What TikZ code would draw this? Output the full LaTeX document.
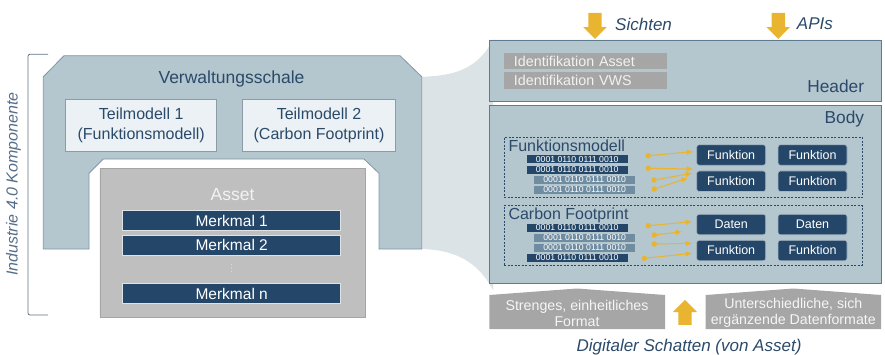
\documentclass[tikz,border=0pt]{standalone}
\usepackage{fontspec}
\setmainfont{Liberation Sans}
\newfontfamily\symfont{DejaVu Sans}
\usepackage{tikz}
\usetikzlibrary{positioning,arrows.meta,shapes.misc,shapes.arrows}
\definecolor{vwsblue}{HTML}{B4C6CE}
\definecolor{vwsedge}{HTML}{7F98A6}
\definecolor{paneledge}{HTML}{5E7B8F}
\definecolor{tmfill}{HTML}{EBF1F4}
\definecolor{tmedge}{HTML}{8C9BA5}
\definecolor{assetgray}{HTML}{BFBFBF}
\definecolor{assetedge}{HTML}{A5A5A5}
\definecolor{navy}{HTML}{244668}
\definecolor{bitlight}{HTML}{6F8CA0}
\definecolor{shadowband}{HTML}{DCE3E7}
\definecolor{idgray}{HTML}{A6A6A6}
\definecolor{inktext}{HTML}{2B4A6A}
\definecolor{gold}{HTML}{E9B430}
\definecolor{bracketc}{HTML}{5E7385}
\newcommand{\pxfont}[2]{\fontsize{#1pt}{#2pt}\selectfont}

\begin{document}
\begin{tikzpicture}[x=1pt, y=-1pt,
  font=\pxfont{16}{20},
  tm/.style={draw=tmedge, fill=tmfill, line width=0.8pt, minimum height=52pt,
             align=center, inner sep=0pt, text=inktext, font=\pxfont{16}{20.5}},
  merkmal/.style={draw=white!85!navy, fill=navy, line width=0.8pt, minimum width=218pt,
                  minimum height=20pt, inner sep=0pt, text=white, font=\pxfont{15.5}{18}},
  panel/.style={chamfered rectangle, draw=paneledge, fill=vwsblue, line width=0.8pt,
                minimum width=391.7pt, inner sep=0pt, outer sep=0pt},
  idbar/.style={fill=idgray, text=white!95!black, text width=142.7pt, inner xsep=10pt,
                inner ysep=0pt, align=left, font=\pxfont{14.3}{16}},
  grp/.style={draw=inktext, dash pattern=on 2pt off 1.5pt, line width=0.7pt,
              minimum width=358.3pt, inner sep=0pt},
  grptitle/.style={anchor=west, inner sep=0pt, text=inktext, font=\pxfont{16}{18}},
  bits/.style={fill=navy, text=white, minimum width=101pt, minimum height=8pt,
               inner sep=0pt, font=\pxfont{8.7}{9}},
  bitslight/.style={bits, fill=bitlight, minimum width=100.7pt},
  fkt/.style={draw=white!60!navy, fill=navy, line width=0.6pt, rounded corners=2.5pt,
              minimum width=69pt, minimum height=20.5pt, inner sep=0pt, text=white,
              font=\pxfont{12.5}{14}},
  golddot/.style={circle, fill=gold, minimum size=5.4pt, inner sep=0pt},
  goldarr/.style={-{Triangle[length=6pt, width=5pt]}, draw=gold, line width=1pt},
  blockarr/.style={single arrow, fill=gold, inner xsep=0pt, inner ysep=6.5pt,
                   single arrow head extend=5pt},
  formatbox/.style={align=center, text=white!96!black, font=\pxfont{14.2}{16}},
  lab/.style={text=inktext, font=\itshape\pxfont{17}{20}, inner sep=0pt},
]
\useasboundingbox (0,0) rectangle (885,354);

% bracket round the whole component
\draw[bracketc, line width=0.8pt, rounded corners=2pt] (48,54.3) -- (28,54.3) -- (28,315) -- (48,315);
\node[rotate=90, text=inktext!80!white, font=\itshape\pxfont{16}{18}] (i40) at (13.5,184)
  {Industrie 4.0 Komponente};

% shadow band towards the right panel
\fill[shadowband] (421.7,76.7) .. controls (456,76) and (478,68) .. (493,40)
  -- (493,290) .. controls (478,262) and (456,250) .. (421.7,249) -- cycle;

% administration shell (U shape round the asset)
\draw[fill=vwsblue, draw=vwsedge, line width=0.8pt]
  (43.3,76.7) -- (64,55.7) -- (400,55.7) -- (421.7,76.7) -- (421.7,249) -- (379,249)
  -- (379,173.3) -- (364,159) -- (103.3,159) -- (89,173.3) -- (89,249) -- (43.3,249) -- cycle;
\node[text=inktext, font=\pxfont{17.5}{20}] (vws) at (231.5,79) {Verwaltungsschale};
\node[tm, minimum width=151pt] (tm1) at (141.2,125.5) {Teilmodell 1\\(Funktionsmodell)};
\node[tm, minimum width=153.4pt] (tm2) at (319,125.5) {Teilmodell 2\\(Carbon Footprint)};

% asset
\node[chamfered rectangle, chamfered rectangle corners={north west,north east},
      chamfered rectangle xsep=18pt, chamfered rectangle ysep=17pt,
      fill=assetgray, draw=assetedge, line width=0.8pt, inner sep=0pt,
      minimum width=265.7pt, minimum height=149pt] (asset) at (232.8,242.8) {};
\node[text=white!95!black, font=\pxfont{17.5}{20}] (assetlab) at (232.5,195) {Asset};
\node[merkmal] (m1) at (231.7,220.7) {Merkmal 1};
\node[merkmal] (m2) at (231.7,245) {Merkmal 2};
\node[text=white!85!black, font=\symfont\pxfont{10}{10}, inner sep=0pt] (mdots) at (231.7,268.5) {⋮};
\node[merkmal] (mn) at (231.7,293.7) {Merkmal n};

% digital shadow: header and body
\node[panel, chamfered rectangle xsep=11.5pt, chamfered rectangle ysep=10pt,
      minimum height=61.7pt] (header) at (685.2,70.8) {};
\node[panel, chamfered rectangle corners={north west,north east},
      chamfered rectangle xsep=12pt, chamfered rectangle ysep=10pt,
      minimum height=178pt] (body) at (685.2,194) {};
\node[idbar, minimum height=16pt] (idasset) at (585.3,61.3) {Identifikation Asset};
\node[idbar, minimum height=16.7pt] (idvws) at (585.3,80.3) {Identifikation VWS};
\node[anchor=east, inner sep=0pt, text=inktext, font=\pxfont{17.3}{20}] (hdlab) at (864.3,86) {Header};
\node[anchor=east, inner sep=0pt, text=inktext, font=\pxfont{17.3}{20}] (bdlab) at (864.3,119.3) {Body};

% views and APIs feeding in
\node[blockarr, rotate=-90, minimum height=26pt, minimum width=23pt] (arrsicht) at (595,22.5) {};
\node[lab, anchor=west] (sicht) at (615,24) {Sichten};
\node[blockarr, rotate=-90, minimum height=26pt, minimum width=23pt] (arrapi) at (778.3,22.5) {};
\node[lab, anchor=west] (api) at (796.7,24) {APIs};

% submodel groups
\node[grp, minimum height=60pt] (gfkt) at (683.2,167.3) {};
\node[grptitle] (tfkt) at (508.3,145.7) {Funktionsmodell};
\node[grp, minimum height=59.3pt] (gcf) at (683.2,235.3) {};
\node[grptitle] (tcf) at (508.3,215) {Carbon Footprint};

\node[bits] (b1) at (577.2,159.3) {0001 0110 0111 0010};
\node[bits] (b2) at (577.2,169.7) {0001 0110 0111 0010};
\node[bitslight] (b3) at (584.7,179.9) {0001 0110 0111 0010};
\node[bitslight] (b4) at (584.7,189.9) {0001 0110 0111 0010};
\node[bits] (b5) at (577.2,227.7) {0001 0110 0111 0010};
\node[bitslight] (b6) at (584.7,237.7) {0001 0110 0111 0010};
\node[bitslight] (b7) at (584.7,247.7) {0001 0110 0111 0010};
\node[bits] (b8) at (577.2,257.7) {0001 0110 0111 0010};

\node[fkt] (f11) at (731.2,155) {Funktion};
\node[fkt] (f12) at (812.5,155) {Funktion};
\node[fkt] (f21) at (731.2,181.2) {Funktion};
\node[fkt] (f22) at (812.5,181.2) {Funktion};
\node[fkt] (d11) at (731.2,224.5) {Daten};
\node[fkt] (d12) at (812.5,224.5) {Daten};
\node[fkt] (d21) at (731.2,250.5) {Funktion};
\node[fkt] (d22) at (812.5,250.5) {Funktion};

% data points mapped onto functions and data
\foreach \sx/\sy/\tx/\ty [count=\i] in {
    648.3/155.7/692.7/151.7, 648.3/168.3/692.7/169, 654/180/691.7/173.3, 654.3/189/687.3/178.3,
    648.3/225.7/691.7/221.7, 654.3/235/681.7/231.7, 654.3/244/691.7/243.3, 644.3/258.3/691.7/253.3} {
  \node[golddot] (src\i) at (\sx,\sy) {};
  \coordinate (tip\i) at (\tx,\ty);
  \draw[goldarr] (src\i) -- (tip\i);
}

% formats underneath
\fill[idgray] (489.3,295) -- (577,288.5) -- (665,295) -- (665,329) -- (489.3,329) -- cycle;
\node[formatbox] (strict) at (577,313) {Strenges, einheitliches\\Format};
\fill[idgray] (705.7,295) -- (793.3,288.5) -- (881,295) -- (881,329) -- (705.7,329) -- cycle;
\node[formatbox] (mixed) at (793.3,313) {Unterschiedliche, sich\\ergänzende Datenformate};
\node[blockarr, rotate=90, single arrow head extend=5.5pt, minimum height=25pt,
      minimum width=24pt] (arrup) at (685,315.8) {};
\node[lab] (shadow) at (689,346.7) {Digitaler Schatten (von Asset)};
\end{tikzpicture}
\end{document}
